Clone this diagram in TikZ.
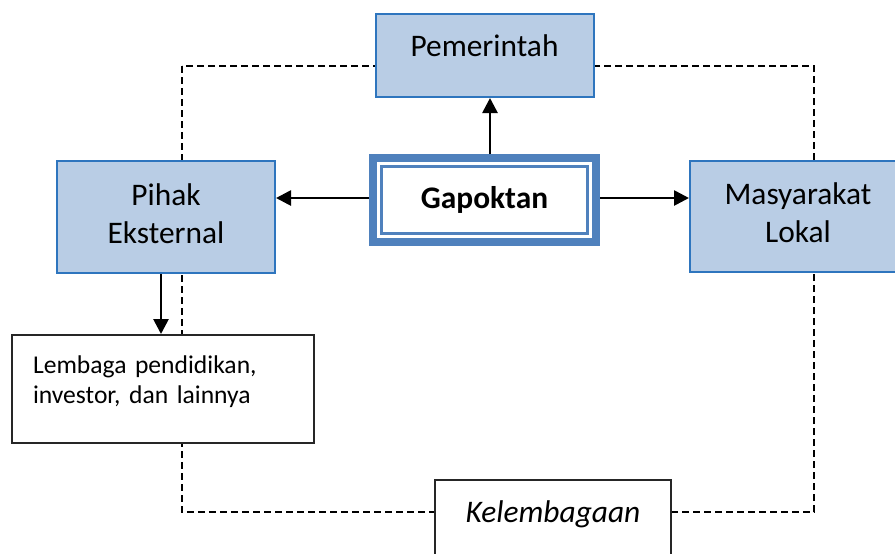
\documentclass[tikz,border=0pt]{standalone}
\usepackage{fontspec}
\setmainfont{Carlito}
\usepackage{xcolor}
\usetikzlibrary{arrows.meta,positioning}
\definecolor{boxfill}{RGB}{185,205,229}
\definecolor{boxline}{RGB}{46,117,190}
\definecolor{gapline}{RGB}{79,129,189}

\begin{document}
\begin{tikzpicture}[
    x=0.5pt, y=-0.5pt,
    txt/.style={font=\fontsize{15.7}{19}\selectfont},
    bluebox/.style={rectangle, draw=boxline, fill=boxfill, line width=1pt, align=center, txt, inner sep=0},
    gapbox/.style={rectangle, draw=gapline, fill=white, line width=4pt, inner sep=0,
        minimum width=111.5pt, minimum height=42pt, font=\fontsize{15.7}{19}\selectfont\bfseries},
    gapin/.style={draw=gapline, line width=1.2pt},
    plainbox/.style={rectangle, draw=black!85, fill=white, line width=1pt},
    link/.style={line width=1.35pt, -{Triangle[length=7.5pt,width=7.5pt]}},
    border/.style={line width=0.85pt, dash pattern=on 3.3pt off 2.2pt}]
\useasboundingbox (0,0) rectangle (895,553);

\path[draw, border] (182,66) rectangle (814,512);

\node[bluebox, minimum width=109pt, minimum height=41.5pt, text height=11.5pt, text depth=10.5pt] (pem) at (484.5,55.5) {Pemerintah};
\node[gapbox] (gap) at (484.5,200) {Gapoktan};
\path[gapin] ([shift={(6.3pt,-6.3pt)}]gap.north west) rectangle ([shift={(-6.3pt,6.3pt)}]gap.south east);
\node[bluebox, minimum width=109pt, minimum height=56pt, text depth=3.5pt] (pih) at (166,217) {Pihak\\Eksternal};
\node[bluebox, minimum width=108pt, minimum height=55.5pt, text depth=3.5pt] (mas) at (798,216.5) {Masyarakat\\Lokal};
\node[plainbox, minimum width=151pt, minimum height=54pt, inner xsep=10.5pt, text width=130pt, align=left,
      text height=10pt, text depth=26pt, font=\fontsize{12.8}{15}\selectfont] (lem) at (163,389) {Lembaga pendidikan,\\investor, dan lainnya};
\node[plainbox, line width=0.8pt, minimum width=118pt, minimum height=40pt, text height=12pt, text depth=10pt,
      font=\fontsize{15.7}{19}\selectfont\itshape] (kel) at (553,520) {Kelembagaan};

\path[draw, link] ([xshift=2.75pt]gap.north) -- ([xshift=2.75pt]pem.south);
\path[draw, link] ([yshift=1pt]gap.west) -- ([yshift=1pt]gap.west -| pih.east);
\path[draw, link] ([yshift=1pt]gap.east) -- ([yshift=1pt]gap.east -| mas.west);
\path[draw, link] ([xshift=-2.5pt]pih.south) -- ([xshift=-2.5pt]pih.south |- lem.north);

\end{tikzpicture}
\end{document}
